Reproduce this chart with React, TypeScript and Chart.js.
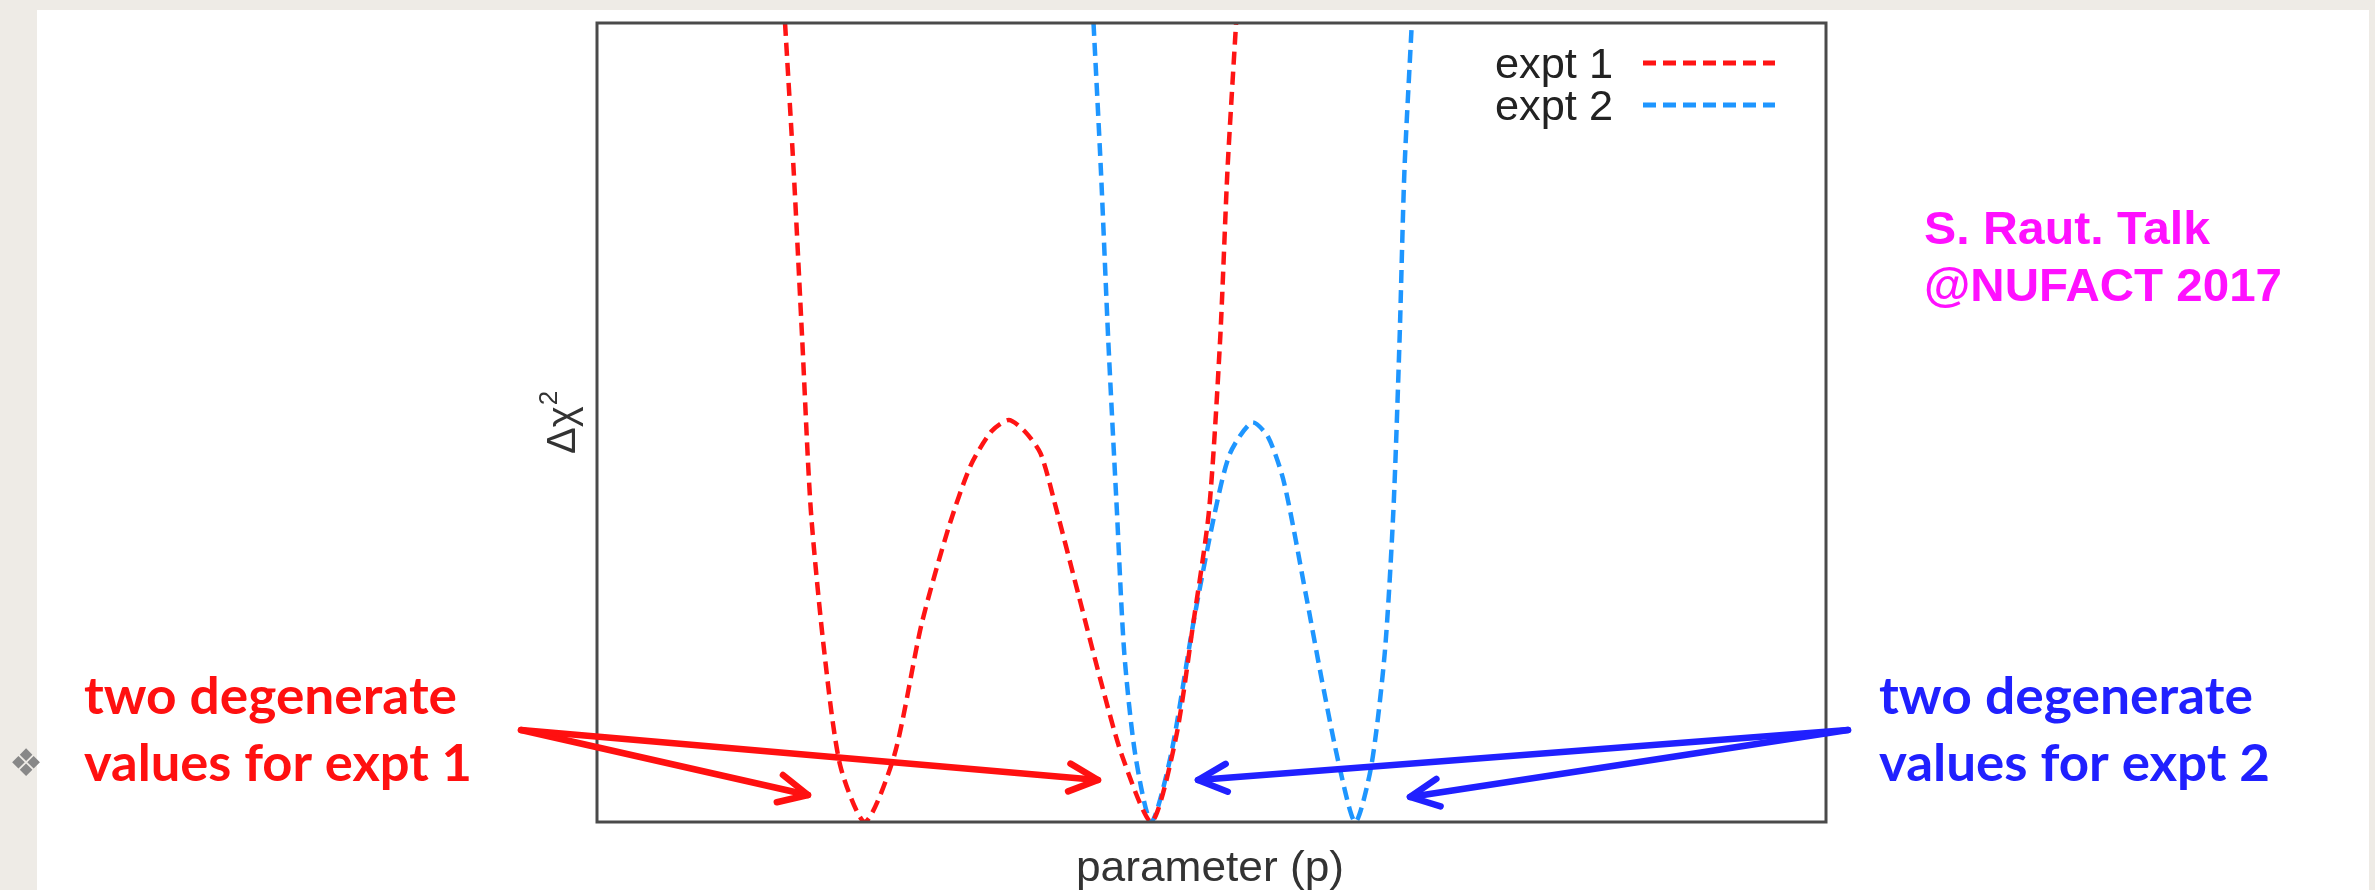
import React, { useEffect, useRef } from "react";
import { Chart, registerables } from "chart.js";

Chart.register(...registerables);

const W = 2375;
const H = 890;

// Δχ² versus the parameter p, both in arbitrary units (axes span 0–10)
const expt1Param = [1.53, 1.6, 1.67, 1.74, 1.85, 1.98, 2.18, 2.42, 2.64, 2.86, 3.04, 3.21, 3.35, 3.48, 3.61, 3.74, 3.92, 4.1, 4.27, 4.51, 4.71, 4.85, 4.98, 5.07, 5.13, 5.2];
const expt1DeltaChi2 = [10.0, 8.16, 6.03, 3.9, 2.12, 0.7, 0, 0.84, 2.47, 3.68, 4.46, 4.89, 5.03, 4.89, 4.61, 3.9, 2.83, 1.76, 0.84, 0, 1.05, 2.47, 3.9, 6.03, 8.16, 10.0];

const expt2Param = [4.04, 4.1, 4.16, 4.23, 4.29, 4.38, 4.51, 4.67, 4.85, 5.02, 5.15, 5.33, 5.46, 5.59, 5.77, 5.9, 6.04, 6.17, 6.3, 6.41, 6.48, 6.53, 6.57, 6.63];
const expt2DeltaChi2 = [10.0, 8.16, 6.03, 3.9, 2.12, 0.84, 0, 0.84, 2.47, 3.82, 4.61, 5.0, 4.82, 4.25, 2.83, 1.76, 0.7, 0, 0.7, 2.12, 3.9, 6.03, 8.16, 10.0];

const seriesLabels = ["expt 1", "expt 2"];
const seriesColors = ["#ff1414", "#1e96ff"];
const xTitle = "parameter (p)";
const noteLines1 = ["two degenerate", "values for expt 1"];
const noteLines2 = ["two degenerate", "values for expt 2"];
const creditLines = ["S. Raut. Talk", "@NUFACT 2017"];

const PLOT = { left: 597, top: 23, right: 1826, bottom: 822 };

const toPoints = (xs: number[], ys: number[]) => xs.map((x, i) => ({ x, y: ys[i] }));

// Draw text stretched or squeezed to a given width
function fitText(
  ctx: CanvasRenderingContext2D,
  text: string,
  x: number,
  y: number,
  font: string,
  color: string,
  width: number
) {
  ctx.save();
  ctx.font = font;
  ctx.fillStyle = color;
  ctx.textBaseline = "alphabetic";
  ctx.textAlign = "left";
  const w = ctx.measureText(text).width;
  const s = width / w;
  ctx.translate(x, y);
  ctx.scale(s, 1);
  ctx.fillText(text, 0, 0);
  ctx.restore();
}

function arrow(
  ctx: CanvasRenderingContext2D,
  x0: number,
  y0: number,
  x1: number,
  y1: number,
  color: string
) {
  const ang = Math.atan2(y1 - y0, x1 - x0);
  const head = 32;
  const spread = 0.45;
  ctx.save();
  ctx.strokeStyle = color;
  ctx.lineWidth = 6.5;
  ctx.lineCap = "round";
  ctx.lineJoin = "round";
  ctx.beginPath();
  ctx.moveTo(x0, y0);
  ctx.lineTo(x1, y1);
  ctx.stroke();
  ctx.beginPath();
  ctx.moveTo(x1 - head * Math.cos(ang - spread), y1 - head * Math.sin(ang - spread));
  ctx.lineTo(x1, y1);
  ctx.lineTo(x1 - head * Math.cos(ang + spread), y1 - head * Math.sin(ang + spread));
  ctx.stroke();
  ctx.restore();
}

const decorations = {
  id: "decorations",
  afterDraw(chart: Chart) {
    const ctx = chart.ctx;
    const a = chart.chartArea;

    // plot frame
    ctx.save();
    ctx.strokeStyle = "#4a4a4a";
    ctx.lineWidth = 3;
    ctx.strokeRect(a.left, a.top, a.right - a.left, a.bottom - a.top);
    ctx.restore();

    // legend: label on the left, dashed sample on the right
    chart.data.datasets.forEach((ds: any, i: number) => {
      const base = 78 + i * 42;
      fitText(ctx, ds.label, 1495, base, "42px 'Liberation Sans', Arial, sans-serif", "#222", 118);
      ctx.save();
      ctx.strokeStyle = ds.borderColor;
      ctx.lineWidth = 5;
      ctx.setLineDash(ds.borderDash);
      ctx.beginPath();
      ctx.moveTo(1643, base - 15);
      ctx.lineTo(1775, base - 15);
      ctx.stroke();
      ctx.restore();
    });

    // axis titles
    fitText(ctx, xTitle, 1076, 881, "42px 'Liberation Sans', Arial, sans-serif", "#333", 268);
    ctx.save();
    ctx.translate(575, 454);
    ctx.rotate(-Math.PI / 2);
    ctx.fillStyle = "#333";
    ctx.font = "40px 'Liberation Sans', Arial, sans-serif";
    ctx.textBaseline = "alphabetic";
    ctx.fillText("Δχ", 0, 0);
    const dw = ctx.measureText("Δχ").width;
    ctx.font = "26px 'Liberation Sans', Arial, sans-serif";
    ctx.fillText("2", dw + 1, -18);
    ctx.restore();

    // annotations
    const noteFont = "bold 52px Lato, 'Open Sans', sans-serif";
    fitText(ctx, noteLines1[0], 84, 714, noteFont, "#ff1010", 373);
    fitText(ctx, noteLines1[1], 84, 781, noteFont, "#ff1010", 388);
    fitText(ctx, noteLines2[0], 1879, 714, noteFont, "#2020ff", 374);
    fitText(ctx, noteLines2[1], 1879, 781, noteFont, "#2020ff", 391);

    arrow(ctx, 521, 730, 808, 795, "#ff1010");
    arrow(ctx, 521, 730, 1098, 780, "#ff1010");
    arrow(ctx, 1848, 730, 1198, 780, "#2020ff");
    arrow(ctx, 1848, 730, 1410, 797, "#2020ff");

    const creditFont = "bold 47px 'Liberation Sans', Arial, sans-serif";
    fitText(ctx, creditLines[0], 1924, 244, creditFont, "#ff10ff", 286);
    fitText(ctx, creditLines[1], 1924, 301, creditFont, "#ff10ff", 358);

    // slide bullet ornament
    ctx.save();
    ctx.font = "38px 'DejaVu Sans', sans-serif";
    ctx.fillStyle = "#888888";
    ctx.textAlign = "center";
    ctx.textBaseline = "middle";
    ctx.fillText("❖", 26, 766);
    ctx.restore();
  },
};

export default function App() {
  const ref = useRef<HTMLCanvasElement | null>(null);

  useEffect(() => {
    document.body.style.margin = "0";
    document.body.style.overflow = "hidden";
    const canvas = ref.current;
    if (!canvas) return;
    const chart = new Chart(canvas, {
      type: "line",
      data: {
        datasets: [
          {
            label: seriesLabels[0],
            data: toPoints(expt1Param, expt1DeltaChi2),
            borderColor: seriesColors[0],
            borderWidth: 4.5,
            borderDash: [13, 7],
            tension: 0.25,
            pointRadius: 0,
            fill: false,
          },
          {
            label: seriesLabels[1],
            data: toPoints(expt2Param, expt2DeltaChi2),
            borderColor: seriesColors[1],
            borderWidth: 4.5,
            borderDash: [13, 7],
            tension: 0.25,
            pointRadius: 0,
            fill: false,
          },
        ],
      },
      options: {
        animation: false,
        responsive: false,
        devicePixelRatio: 1,
        layout: {
          padding: {
            left: PLOT.left,
            top: PLOT.top,
            right: W - PLOT.right,
            bottom: H - PLOT.bottom,
          },
        },
        scales: {
          x: { type: "linear", min: 0, max: 10, display: false },
          y: { type: "linear", min: 0, max: 10, display: false },
        },
        plugins: { legend: { display: false }, tooltip: { enabled: false } },
      },
      plugins: [decorations],
    });
    return () => chart.destroy();
  }, []);

  return (
    <div style={{ position: "relative", width: W, height: H, background: "#eeebe6", overflow: "hidden" }}>
      <div style={{ position: "absolute", left: 37, top: 10, width: 2332, height: 880, background: "#ffffff" }} />
      <canvas ref={ref} width={W} height={H} style={{ position: "absolute", left: 0, top: 0, width: W, height: H }} />
    </div>
  );
}
